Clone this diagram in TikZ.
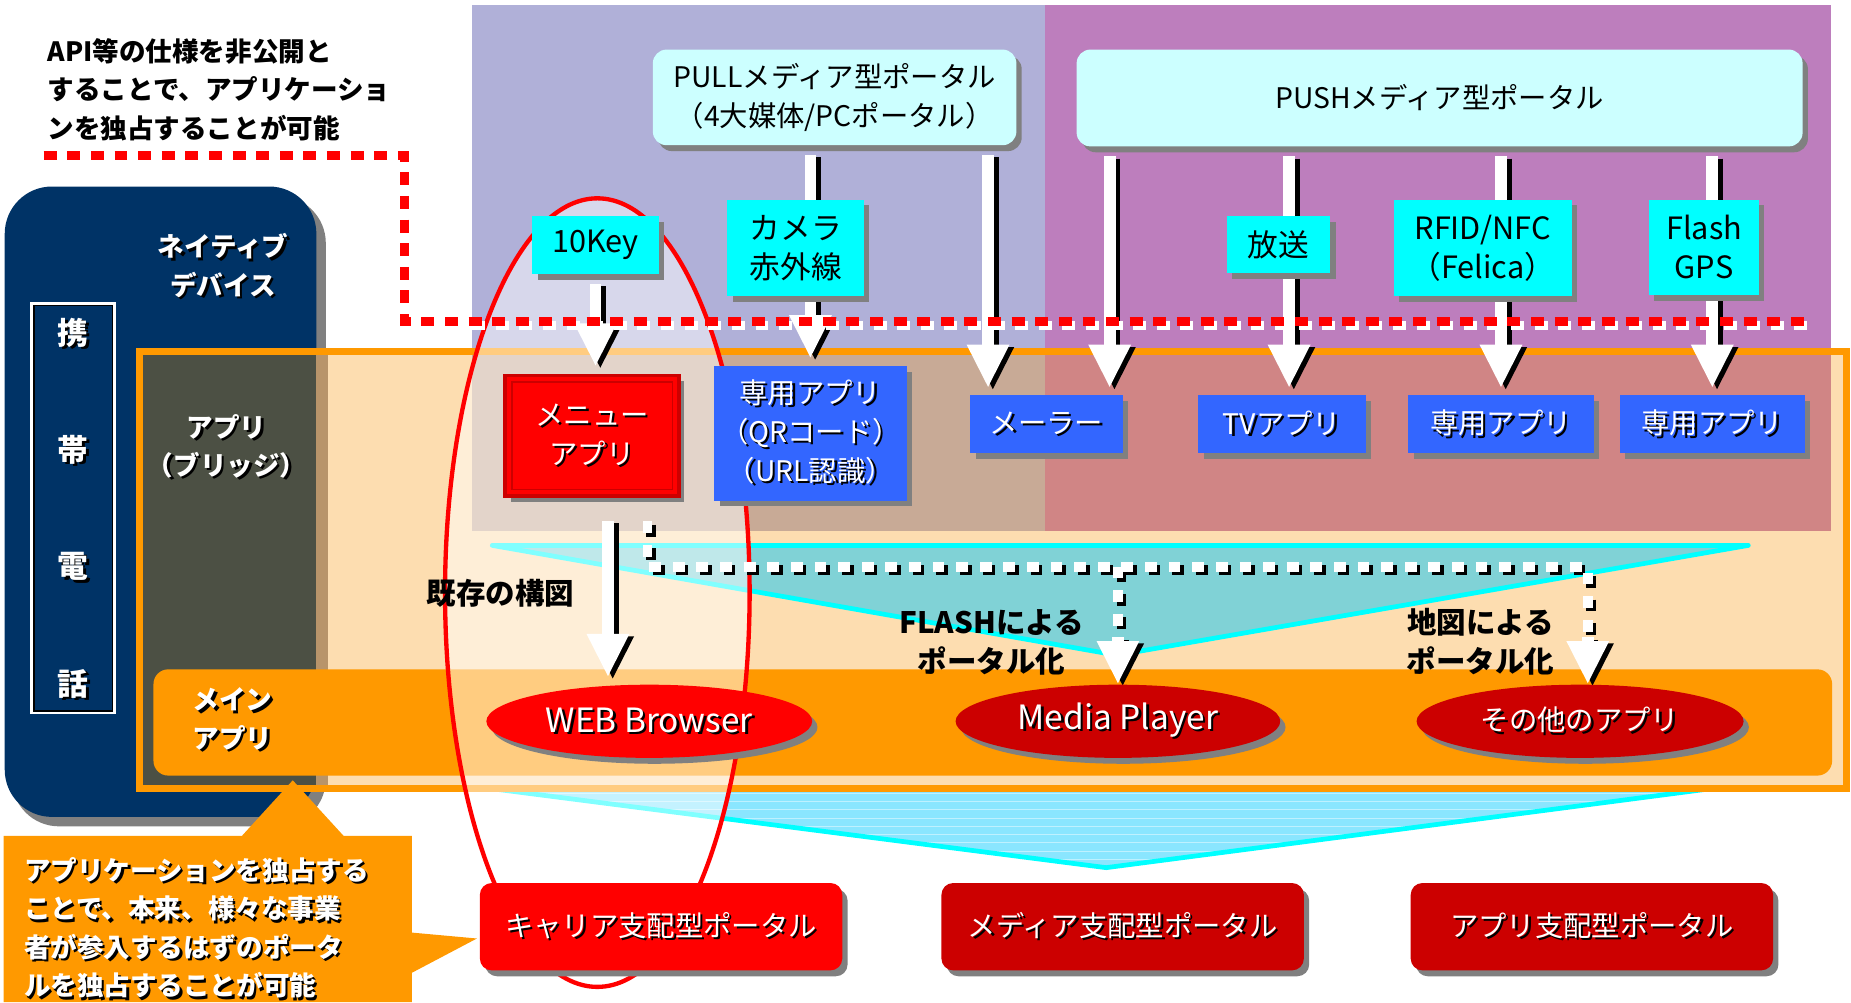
\documentclass[tikz,border=0pt]{standalone}
\usepackage{fontspec}
\setmainfont{Noto Sans CJK JP}
\usetikzlibrary{arrows.meta,shadows,shapes.geometric}
\pgfdeclarelayer{back}
\pgfdeclarelayer{mid}
\pgfsetlayers{back,mid,main}

\definecolor{lav}{HTML}{B0B0D8}
\definecolor{lavlow}{HTML}{C8AA96}
\definecolor{pur}{HTML}{BD7EBD}
\definecolor{purlow}{HTML}{D08585}
\definecolor{peach}{HTML}{FDDDB0}
\definecolor{navy}{HTML}{003366}
\definecolor{slate}{HTML}{4C5044}
\definecolor{strip}{HTML}{B8946A}
\definecolor{orng}{HTML}{FF9900}
\definecolor{lcyan}{HTML}{CCFFFF}
\definecolor{cyn}{HTML}{00FFFF}
\definecolor{blu}{HTML}{3366FF}
\definecolor{dred}{HTML}{CC0000}
\definecolor{funnel}{HTML}{80D2D6}
\definecolor{sky}{HTML}{8AE6FF}
\definecolor{shd}{HTML}{808080}

\newcommand{\shtxt}[1]{\makebox[0pt][l]{\hspace{1.2pt}\raisebox{-1.2pt}{\color{black}#1}}#1}
\newcommand{\fcap}{\fontsize{14.4pt}{19.8pt}\selectfont}
\newcommand{\ftag}{\fontsize{15.6pt}{19.8pt}\selectfont}
\newcommand{\fell}{\fontsize{17pt}{20pt}\selectfont}
\newcommand{\fnote}{\bfseries\fontsize{13.5pt}{19.6pt}\selectfont}
\newcommand{\fbig}{\bfseries\fontsize{15pt}{19.8pt}\selectfont}
\newcommand{\warrow}[2]{%
  \draw[warrs] ([shift={(4,10)}]#1) -- ([shift={(4,-4)}]#2);
  \draw[warr] ([shift={(0,8)}]#1) -- ([shift={(0,-6)}]#2);}
\newcommand{\whead}[2]{%
  \draw[warrs] ([shift={(4,2)}]#1) -- ([shift={(4,2)}]#2);
  \draw[warr] (#1) -- (#2);}

\begin{document}
\begin{tikzpicture}[x=0.6pt, y=-0.6pt,
	shdw/.style={drop shadow={shadow xshift=2.7pt, shadow yshift=-3pt, fill=shd, opacity=1}},
	portal/.style={shdw, rounded corners=7pt, fill=lcyan, inner sep=0pt, align=center, font=\fcap},
	tag/.style={shdw, fill=cyn, inner sep=0pt, align=center, font=\ftag},
	app/.style={shdw, fill=blu, inner sep=0pt, align=center, text=white, font=\fcap, minimum height=29.4pt},
	oval/.style={shdw, ellipse, fill=dred, inner sep=0pt, text=white, minimum height=37.2pt},
	dom/.style={shdw, rounded corners=6pt, fill=dred, inner sep=0pt, text=white, font=\fcap, minimum width=184.2pt, minimum height=44.4pt},
	lbl/.style={inner sep=0pt, align=center},
	warr/.style={line width=6pt, white, -{Triangle[width=20pt,length=22pt]}},
	warrs/.style={line width=6pt, black, -{Triangle[width=20pt,length=22pt]}},
	chk/.style={line width=5pt, white, dash pattern=on 6pt off 6pt},
	chks/.style={line width=5pt, black, dash pattern=on 6pt off 6pt},
	wall/.style={line width=4.5pt, red, dash pattern=on 6.6pt off 5.4pt},
	walls/.style={line width=4.5pt, white, dash pattern=on 6.6pt off 5.4pt}
]
	\useasboundingbox (0,0) rectangle (1568,849);

	\begin{pgfonlayer}{back}
	\fill[white] (0,0) rectangle (1568,849);
	\fill[lav] (400,4) rectangle (885,450);
	\fill[pur] (885,4) rectangle (1551,450);

	\begin{scope}
		\clip (416,668) -- (1450,668) -- (937,735) -- cycle;
		\fill[sky] (416,668) rectangle (1450,735);
		\foreach \yy in {672,679,...,735}
			\draw[white!45!sky, line width=0.5pt] (416,\yy) -- (1450,\yy);
	\end{scope}
	\draw[cyn, line width=2.4pt, line join=round] (416,668) -- (937,735) -- (1450,668);

	\fill[shd, rounded corners=24pt] (10,166) rectangle (276,700);
	\fill[navy, rounded corners=24pt] (4,158) rectangle (268,692);

	\fill[peach] (118,298) rectangle (1564,668);
	\fill[lavlow] (400,301) rectangle (885,450);
	\fill[purlow] (885,301) rectangle (1551,450);
	\fill[slate] (121,301) rectangle (268,665);
	\fill[strip] (268,301) rectangle (278,665);
	\fill[orng, rounded corners=7.5pt] (130,567) rectangle (1552,657);
	\draw[orng, line width=3.6pt] (118,298) rectangle (1564,668);

	\fill[funnel] (417,462) -- (1481,462) -- (946,555) -- cycle;
	\draw[cyn, line width=2.4pt, line join=round] (417,462) -- (1481,462) -- (946,555) -- cycle;

	\fill[white, opacity=.5] (506,502) ellipse [x radius=129, y radius=334];
	\draw[red, line width=2.2pt] (506,502) ellipse [x radius=129, y radius=334];
	\end{pgfonlayer}

	\node[draw=white, line width=1.5pt, fill=navy, minimum width=42pt, minimum height=208.2pt, inner sep=0pt] (phone) at (62,430.5) {};
	\draw[black, line width=0.8pt] ([shift={(3,3)}]phone.north west) rectangle ([shift={(-3,-3)}]phone.south east);

	\node[portal, minimum width=184.8pt, minimum height=48.6pt] (pull) at (707,82.5) {PULLメディア型ポータル\\（4大媒体/PCポータル）};
	\node[portal, minimum width=369pt, minimum height=49.2pt] (push) at (1219.5,83) {PUSHメディア型ポータル};

	\node[tag, minimum width=64.2pt, minimum height=29.4pt] (key) at (504.5,207.5) {10Key};
	\node[tag, minimum width=69.6pt, minimum height=49.2pt] (cam) at (674,210) {カメラ\\赤外線};
	\node[tag, minimum width=52.8pt, minimum height=28.8pt] (hoso) at (1083,207) {放送};
	\node[tag, minimum width=90.6pt, minimum height=49.2pt] (rfid) at (1256,210) {RFID/NFC\\（Felica）};
	\node[tag, minimum width=55.8pt, minimum height=48.6pt] (gps) at (1443.5,209.5) {Flash\\GPS};

	\node[shdw, fill=red, draw=dred, line width=1.8pt, minimum width=88.2pt, minimum height=61.2pt, inner sep=0pt, align=center, text=white, font=\fcap] (menu) at (501.5,369) {\shtxt{メニュー}\\\shtxt{アプリ}};
	\draw[dred, line width=0.8pt] ([shift={(7,7)}]menu.north west) rectangle ([shift={(-7,-7)}]menu.south east);

	\node[app, minimum width=97.8pt, minimum height=68.4pt] (qr) at (686.5,367) {\shtxt{専用アプリ}\\\shtxt{（QRコード）}\\\shtxt{（URL認識）}};
	\node[app, minimum width=77.4pt] (mail) at (886.5,359.5) {\shtxt{メーラー}};
	\node[app, minimum width=85.2pt] (tv) at (1086,359.5) {\shtxt{TVアプリ}};
	\node[app, minimum width=94.2pt] (app2) at (1271.5,359.5) {\shtxt{専用アプリ}};
	\node[app, minimum width=94.2pt] (app3) at (1450.5,359.5) {\shtxt{専用アプリ}};

	\node[oval, fill=red, minimum width=165.6pt, font=\fell] (web) at (550,611) {\shtxt{WEB Browser}};
	\node[oval, minimum width=165pt, font=\fell] (media) at (947,611) {\shtxt{Media Player}};
	\node[oval, minimum width=166.2pt, font=\fcap] (other) at (1338.5,611) {\shtxt{その他のアプリ}};

	\node[dom, fill=red] (carrier) at (560,785) {\shtxt{キャリア支配型ポータル}};
	\node[dom] (mediap) at (951,785) {\shtxt{メディア支配型ポータル}};
	\node[dom] (appp) at (1348.5,785) {\shtxt{アプリ支配型ポータル}};

	\node[lbl, anchor=west, align=left, font=\fnote] (api) at (40,76) {API等の仕様を非公開と\\することで、アプリケーショ\\ンを独占することが可能};
	\node[lbl, text=white, font=\fnote] (native) at (189,226) {\shtxt{ネイティブ}\\\shtxt{デバイス}};
	\node[lbl, text=white, font=\fnote] (bridge) at (192,379) {\shtxt{アプリ}\\\shtxt{（ブリッジ）}};
	\node[lbl, anchor=west, align=left, text=white, font=\fnote] (mainapp) at (163,610) {\shtxt{メイン}\\\shtxt{アプリ}};
	\foreach \ch [count=\n] in {携,帯,電,話}
		\node[lbl, text=white, font=\bfseries\fontsize{15.6pt}{18pt}\selectfont] (ph\n) at (62,{283+99*(\n-1)}) {\shtxt{\ch}};

	\node[lbl, font=\fbig] (kizon) at (424,503) {既存の構図};
	\node[lbl, font=\fbig] (flash) at (840,544) {FLASHによる\\ポータル化};
	\node[lbl, font=\fbig] (map) at (1254,544) {地図による\\ポータル化};

	\fill[orng] (3,708) -- (205,708) -- (248,661) -- (291,708) -- (349,708) -- (349,790) -- (404,795) -- (349,824) -- (349,849) -- (3,849) -- cycle;
	\node[lbl, anchor=west, align=left, text=white, font=\fnote] (note) at (20,787) {\shtxt{アプリケーションを独占する}\\\shtxt{ことで、本来、様々な事業}\\\shtxt{者が参入するはずのポータ}\\\shtxt{ルを独占することが可能}};

	\begin{pgfonlayer}{mid}
	\coordinate (k1) at (key.south |- menu.north);
	\coordinate (p1) at (pull.south -| qr.north);
	\coordinate (m1) at ([xshift=-29.7pt]mail.north);
	\coordinate (m2) at ([xshift=32.1pt]mail.north);
	\coordinate (p2) at (pull.south -| m1);
	\coordinate (p3) at (push.south -| m2);
	\coordinate (t1) at ([xshift=3.6pt]tv.north);
	\coordinate (p4) at (push.south -| t1);
	\coordinate (p5) at (push.south -| app2.north);
	\coordinate (p6) at (push.south -| app3.north);
	\coordinate (w0) at ([xshift=8.1pt, yshift=-7pt]menu.south);
	\coordinate (w1) at (w0 |- web.north);

	\warrow{key.south}{k1}
	\warrow{p1}{qr.north}
	\warrow{p2}{m1}
	\warrow{p3}{m2}
	\warrow{p4}{t1}
	\warrow{p5}{app2.north}
	\warrow{p6}{app3.north}
	\warrow{w0}{w1}

	\coordinate (d0) at ([xshift=28.2pt, yshift=-12pt]menu.south);
	\coordinate (d1) at (947,480);
	\coordinate (d2) at (1345,480);
	\coordinate (e1) at (947,540);
	\coordinate (e2) at (1345,540);
	\coordinate (o1) at (e2 |- other.north);
	\draw[chks] ([shift={(3,3)}]d0) |- ([shift={(3,3)}]d2) -- ([shift={(3,3)}]e2);
	\draw[chks] ([shift={(3,3)}]d1) -- ([shift={(3,3)}]e1);
	\draw[chk] (d0) |- (d2) -- (e2);
	\draw[chk] (d1) -- (e1);
	\whead{e1}{media.north}
	\whead{e2}{o1}

	\coordinate (r0) at (37,132);
	\coordinate (r1) at (343,132);
	\coordinate (r2) at (343,272);
	\coordinate (r3) at (1530,272);
	\draw[walls] ([shift={(3,4)}]r0) -- ([shift={(3,4)}]r1) -- ([shift={(3,4)}]r2) -- ([shift={(3,4)}]r3);
	\draw[wall] (r0) -- (r1) -- (r2) -- (r3);
	\end{pgfonlayer}
\end{tikzpicture}
\end{document}
